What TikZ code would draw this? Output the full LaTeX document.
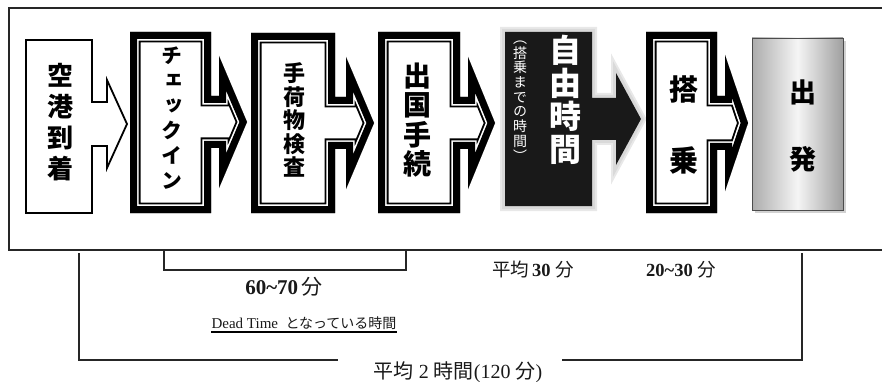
\documentclass[tikz,border=0pt]{standalone}
\usepackage{fontspec}
\setmainfont{Liberation Serif}
\newfontfamily\jp{Noto Sans CJK JP}
\newfontfamily\jpv{Noto Sans CJK JP}[RawFeature=+vert]
\newcommand\setshp[9]{\def\shp{(#1,#3) -- (#2,#3) -- (#2,{#7-#8}) -- (#5,{#7-#8}) -- (#5,{#7-#9}) -- (#6,#7) -- (#5,{#7+#9}) -- (#5,{#7+#8}) -- (#2,{#7+#8}) -- (#2,#4) -- (#1,#4) -- cycle}}
\newcommand\thickshape{\begin{scope}\clip\shp; \fill[white]\shp; \draw[line width=21pt]\shp; \draw[white,line width=17.2pt]\shp; \draw[line width=14pt]\shp; \end{scope}}
\tikzset{
  frameline/.style={line width=1.3pt, black!85},
  vtext/.style={inner sep=0pt, align=center},
  bottomtxt/.style={inner sep=0pt, text=black!90},
}
\begin{document}
\begin{tikzpicture}[x=1pt,y=-1pt, line join=miter]
\useasboundingbox (0,0) rectangle (882,382);
% frame
\draw[frameline] (882,8) -- (9,8) -- (9,250) -- (882,250);
% shape 1
\setshp{26}{92}{40}{213}{107}{127}{124}{22}{44}
\filldraw[fill=white,line width=1.8pt]\shp;
% shapes 2-4
\setshp{130}{211}{32}{213}{219}{247}{122}{26}{66}\thickshape
\setshp{251}{335}{33}{213}{346}{374}{123}{26}{66}\thickshape
\setshp{378}{460}{32}{213}{468}{495}{123}{26}{66}\thickshape
% shape 5
\setshp{505}{592}{32}{206}{616}{641}{119}{21}{46}
\draw[gray!18,line width=10pt]\shp;
\draw[gray!30,line width=6pt]\shp;
\fill[black!90]\shp;
% shape 6
\setshp{646}{717}{32}{213}{725}{748}{123}{27}{68}\thickshape
% shape 7
\fill[gray!35] (755,41) rectangle (846,213);
\shade[left color=gray!65, right color=gray!75, middle color=gray!8] (752,38) rectangle (843,210);
\draw[gray!60!black,line width=0.8pt] (752,38) rectangle (843,210);
% texts in boxes
\node[vtext,font=\jp\bfseries\fontsize{26}{31}\selectfont] (n1) at (60,122) {空\\港\\到\\着};
\node[vtext,font=\jpv\bfseries\fontsize{21}{25}\selectfont] (n2) at (172,118) {チ\\ェ\\ッ\\ク\\イ\\ン};
\node[vtext,font=\jp\bfseries\fontsize{22}{23.5}\selectfont] (n3) at (294,120) {手\\荷\\物\\検\\査};
\node[vtext,font=\jp\bfseries\fontsize{28}{29.5}\selectfont] (n4) at (417,120) {出\\国\\手\\続};
\node[vtext,text=white,font=\jp\bfseries\fontsize{32}{33}\selectfont] (n5) at (565,100) {自\\由\\時\\間};
\node[vtext,text=white,font=\jpv\fontsize{14}{14.7}\selectfont] (n5b) at (520,101) {（\\搭\\乗\\ま\\で\\の\\時\\間\\）};
\node[vtext,font=\jp\bfseries\fontsize{29}{29}\selectfont] (n6a) at (684,89) {搭};
\node[vtext,font=\jp\bfseries\fontsize{29}{29}\selectfont] (n6b) at (684,160) {乗};
\node[vtext,font=\jp\bfseries\fontsize{27}{27}\selectfont] (n7a) at (803,92) {出};
\node[vtext,font=\jp\bfseries\fontsize{27}{27}\selectfont] (n7b) at (803,159) {発};
% bottom texts
\node[bottomtxt,font=\fontsize{21}{23}\selectfont] (t1) at (284,287) {\textbf{60\textasciitilde70}\,{\jp 分}};
\node[bottomtxt,font=\fontsize{15}{17}\selectfont,anchor=base] (t2) at (304,328) {Dead\ Time\ \ {\jp\fontsize{14}{16}\selectfont となっている時間}};
\draw[line width=1.2pt] ([yshift=-4pt]t2.base west) -- ([yshift=-4pt]t2.base east);
\node[bottomtxt,font=\fontsize{18.5}{20}\selectfont] (t3) at (533,270) {{\jp 平均}\,\textbf{30}\ {\jp 分}};
\node[bottomtxt,font=\fontsize{18.5}{20}\selectfont] (t4) at (681,270) {\textbf{20\textasciitilde30}\ {\jp 分}};
\node[bottomtxt,font=\fontsize{20}{22}\selectfont] (t5) at (458,372) {{\jp 平均}\ 2\ {\jp 時間}(120\ {\jp 分})};
% brackets
\coordinate (b1a) at (164,250);
\coordinate (b1b) at (406,250);
\draw[frameline] (b1a) -- (164,270) -- (406,270) -- (b1b);
\coordinate (b2a) at (79,253);
\coordinate (b2b) at (338,360);
\coordinate (b2c) at (562,360);
\coordinate (b2d) at (802,253);
\draw[frameline] (b2a) |- (b2b);
\draw[frameline] (b2c) -| (b2d);
\end{tikzpicture}
\end{document}
